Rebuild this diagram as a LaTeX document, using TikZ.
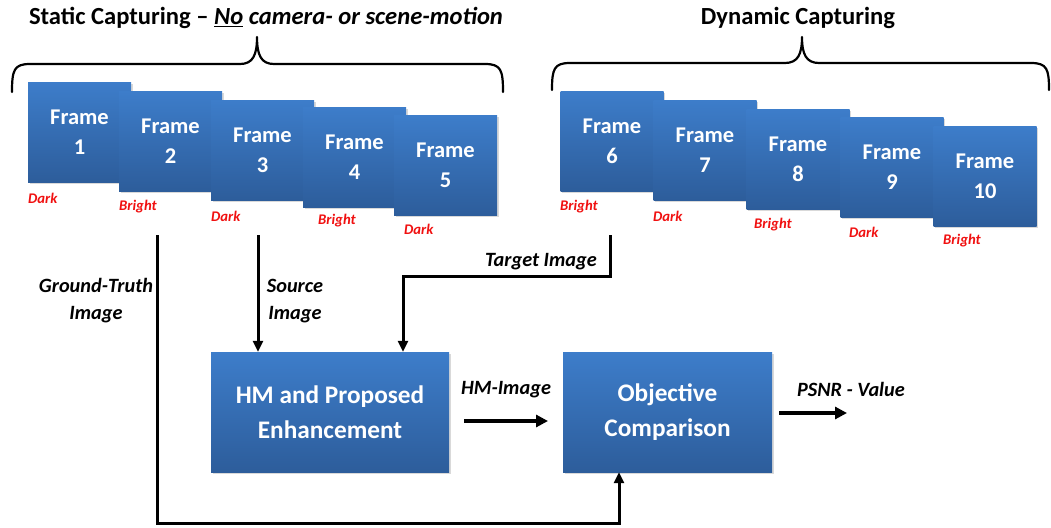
\documentclass[tikz,border=0pt]{standalone}
\usepackage{fontspec}
\setmainfont{Carlito}
\usetikzlibrary{shadows,arrows.meta}
\definecolor{boxtop}{HTML}{3D7DCA}
\definecolor{boxbot}{HTML}{2D5D9B}
\definecolor{lblred}{HTML}{F01010}
\tikzset{
  blk/.style={rectangle, top color=boxtop, bottom color=boxbot, draw=none,
    drop shadow={shadow xshift=1.5pt, shadow yshift=-1.5pt, opacity=0.3},
    text=white, align=center, inner sep=0pt},
  framebox/.style={blk, minimum width=103pt, minimum height=100pt,
    font=\fontsize{22.5}{30}\selectfont\bfseries},
  procbox/.style={blk, font=\fontsize{25.3}{35}\selectfont\bfseries},
  lbl/.style={anchor=west, text=lblred, inner sep=0pt,
    font=\fontsize{14.7}{16}\selectfont\bfseries\itshape},
  captxt/.style={inner sep=0pt, align=center, font=\fontsize{20.3}{27}\selectfont\bfseries\itshape},
  titl/.style={inner sep=0pt, font=\fontsize{24.6}{28}\selectfont\bfseries},
  brace/.style={line width=2.2pt, line cap=round, line join=round},
  arr/.style={line width=3pt, -{Triangle[length=11pt,width=10pt]}},
  fatarr/.style={line width=4pt, -{Triangle[length=12pt,width=12pt]}},
}
\begin{document}
\begin{tikzpicture}[x=1pt,y=-1pt]
\useasboundingbox (0,0) rectangle (1051,527);
% titles
\node[titl] (t1) at (266,18) {Static Capturing -- \underline{\itshape No}\itshape\ camera- or scene-motion};
\node[titl] (t2) at (798,18) {Dynamic Capturing};
% braces
\coordinate (b1) at (257,37);
\coordinate (b2) at (802,37);
\draw[brace] (12,92) .. controls (12,70) and (14,64) .. (30,64) -- (240,64)
  .. controls (253,64) and (257,55) .. (b1)
  .. controls (257,55) and (261,64) .. (274,64) -- (485,64)
  .. controls (501,64) and (503,70) .. (503,92);
\draw[brace] (552,90) .. controls (552,69) and (554,63) .. (570,63) -- (785,63)
  .. controls (798,63) and (802,54) .. (b2)
  .. controls (802,54) and (806,63) .. (819,63) -- (1031,63)
  .. controls (1047,63) and (1049,69) .. (1049,90);
% frames
\node[framebox] (f1) at (79.5,132) {Frame\\1};
\node[framebox] (f2) at (170.5,141) {Frame\\2};
\node[framebox] (f3) at (262.5,150) {Frame\\3};
\node[framebox] (f4) at (354.5,157) {Frame\\4};
\node[framebox] (f5) at (445.5,165.5) {Frame\\5};
\node[framebox] (f6) at (612,141) {Frame\\6};
\node[framebox] (f7) at (705,150) {Frame\\7};
\node[framebox] (f8) at (798,159) {Frame\\8};
\node[framebox] (f9) at (892,167) {Frame\\9};
\node[framebox] (f10) at (985,176) {Frame\\10};
% frame labels
\node[lbl] (l1) at (28,198) {Dark};
\node[lbl] (l2) at (119,207) {Bright};
\node[lbl] (l3) at (211,216) {Dark};
\node[lbl] (l4) at (318,221) {Bright};
\node[lbl] (l5) at (404,229) {Dark};
\node[lbl] (l6) at (560,207) {Bright};
\node[lbl] (l7) at (653,216) {Dark};
\node[lbl] (l8) at (754,225) {Bright};
\node[lbl] (l9) at (849,232) {Dark};
\node[lbl] (l10) at (943,241) {Bright};
% process boxes
\node[procbox, minimum width=238pt, minimum height=120pt] (hm) at (330,412) {HM and Proposed\\Enhancement};
\node[procbox, minimum width=209pt, minimum height=120pt] (obj) at (667.5,412) {Objective\\Comparison};
% connector ends
\coordinate (gt) at (157,235);
\coordinate (src) at (258,235);
\coordinate (tgt) at (610,235);
\coordinate (tgtbend) at (403,276);
\coordinate (gtbend) at (619,523);
\coordinate (hmo1) at (464,421);
\coordinate (hmo2) at (548,421);
\coordinate (ps1) at (779,413);
\coordinate (ps2) at (847,413);
% connectors
\draw[arr] (src) -- (src |- hm.north);
\draw[arr] (tgt) |- (tgtbend) -- (tgtbend |- hm.north);
\draw[arr] (gt) |- (gtbend) -- (gtbend |- obj.south);
\draw[fatarr] (hmo1) -- (hmo2);
\draw[fatarr] (ps1) -- (ps2);
% captions
\node[captxt] (cgt) at (96,301) {Ground-Truth\\Image};
\node[captxt] (csrc) at (295,301) {Source\\Image};
\node[captxt] (ctgt) at (541,262) {Target Image};
\node[captxt] (chm) at (506,390) {HM-Image};
\node[captxt] (cps) at (851,389) {PSNR - Value};
\end{tikzpicture}
\end{document}
